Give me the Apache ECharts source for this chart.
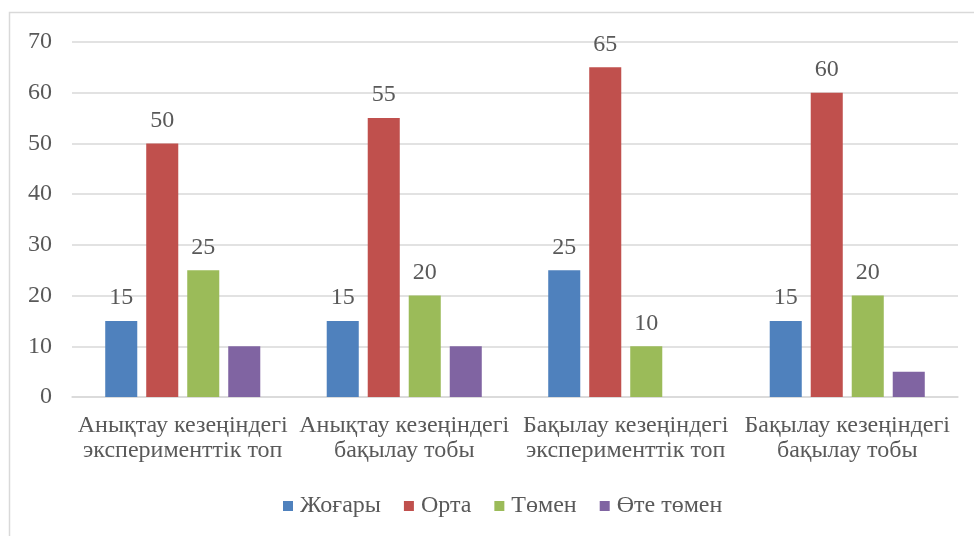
<!DOCTYPE html>
<html>
<head>
<meta charset="utf-8">
<script src="https://cdn.jsdelivr.net/npm/echarts@6/dist/echarts.min.js"></script>
<style>
  html, body { margin: 0; padding: 0; background: #fff; }
  #chart { width: 974px; height: 536px; }
</style>
</head>
<body>
<div id="chart"></div>
<script>
var categories = [
  'Анықтау кезеңіндегі\nэксперименттік топ',
  'Анықтау кезеңіндегі\nбақылау тобы',
  'Бақылау кезеңіндегі\nэксперименттік топ',
  'Бақылау кезеңіндегі\nбақылау тобы'
];
var seriesNames = ['Жоғары', 'Орта', 'Төмен', 'Өте төмен'];
var zhogary = [15, 15, 25, 15];
var orta = [50, 55, 65, 60];
var tomen = [25, 20, 10, 20];
var oteTomen = [10, 10, null, 5];
var yTicks = [0, 10, 20, 30, 40, 50, 60, 70];

var colors = ['#4F81BD', '#C0504D', '#9BBB59', '#8064A2'];
var textColor = '#595959';
var fontFam = '"Liberation Serif", "Times New Roman", serif';
var fs = 24;

var myChart = echarts.init(document.getElementById('chart'));

var makeSeries = function(name, data, color, showLabel) {
  return {
    name: name,
    type: 'bar',
    data: data,
    barCategoryGap: '30%',
    barGap: '28%',
    itemStyle: { color: color },
    label: {
      show: showLabel,
      position: 'top',
      distance: 11,
      color: textColor,
      fontFamily: fontFam,
      fontSize: fs
    }
  };
};

var option = {
  animation: false,
  color: colors,
  graphic: [{
    type: 'rect',
    shape: { x: 9.5, y: 12.5, width: 1100, height: 1100 },
    style: { fill: 'none', stroke: '#d9d9d9', lineWidth: 1.5 },
    silent: true,
    z: -1
  }],
  grid: { left: 72, right: 16, top: 42, bottom: 139 },
  legend: {
    data: seriesNames,
    bottom: 13,
    left: 278,
    icon: 'rect',
    itemWidth: 10,
    itemHeight: 10,
    itemGap: 23,
    textStyle: { color: textColor, fontFamily: fontFam, fontSize: fs, padding: [0, 0, 0, 2] }
  },
  xAxis: {
    type: 'category',
    data: categories,
    axisLine: { lineStyle: { color: '#d9d9d9', width: 1.5 } },
    axisTick: { show: false },
    axisLabel: {
      color: textColor,
      fontFamily: fontFam,
      fontSize: fs,
      lineHeight: 25,
      margin: 16,
      interval: 0
    }
  },
  yAxis: {
    type: 'value',
    min: yTicks[0],
    max: yTicks[yTicks.length - 1],
    interval: 10,
    axisLine: { show: false },
    axisTick: { show: false },
    splitLine: { lineStyle: { color: '#d9d9d9', width: 1.5 } },
    axisLabel: {
      color: textColor,
      fontFamily: fontFam,
      fontSize: fs,
      margin: 20
    }
  },
  series: [
    makeSeries(seriesNames[0], zhogary, colors[0], true),
    makeSeries(seriesNames[1], orta, colors[1], true),
    makeSeries(seriesNames[2], tomen, colors[2], true),
    makeSeries(seriesNames[3], oteTomen, colors[3], false)
  ]
};
myChart.setOption(option);
</script>
</body>
</html>
